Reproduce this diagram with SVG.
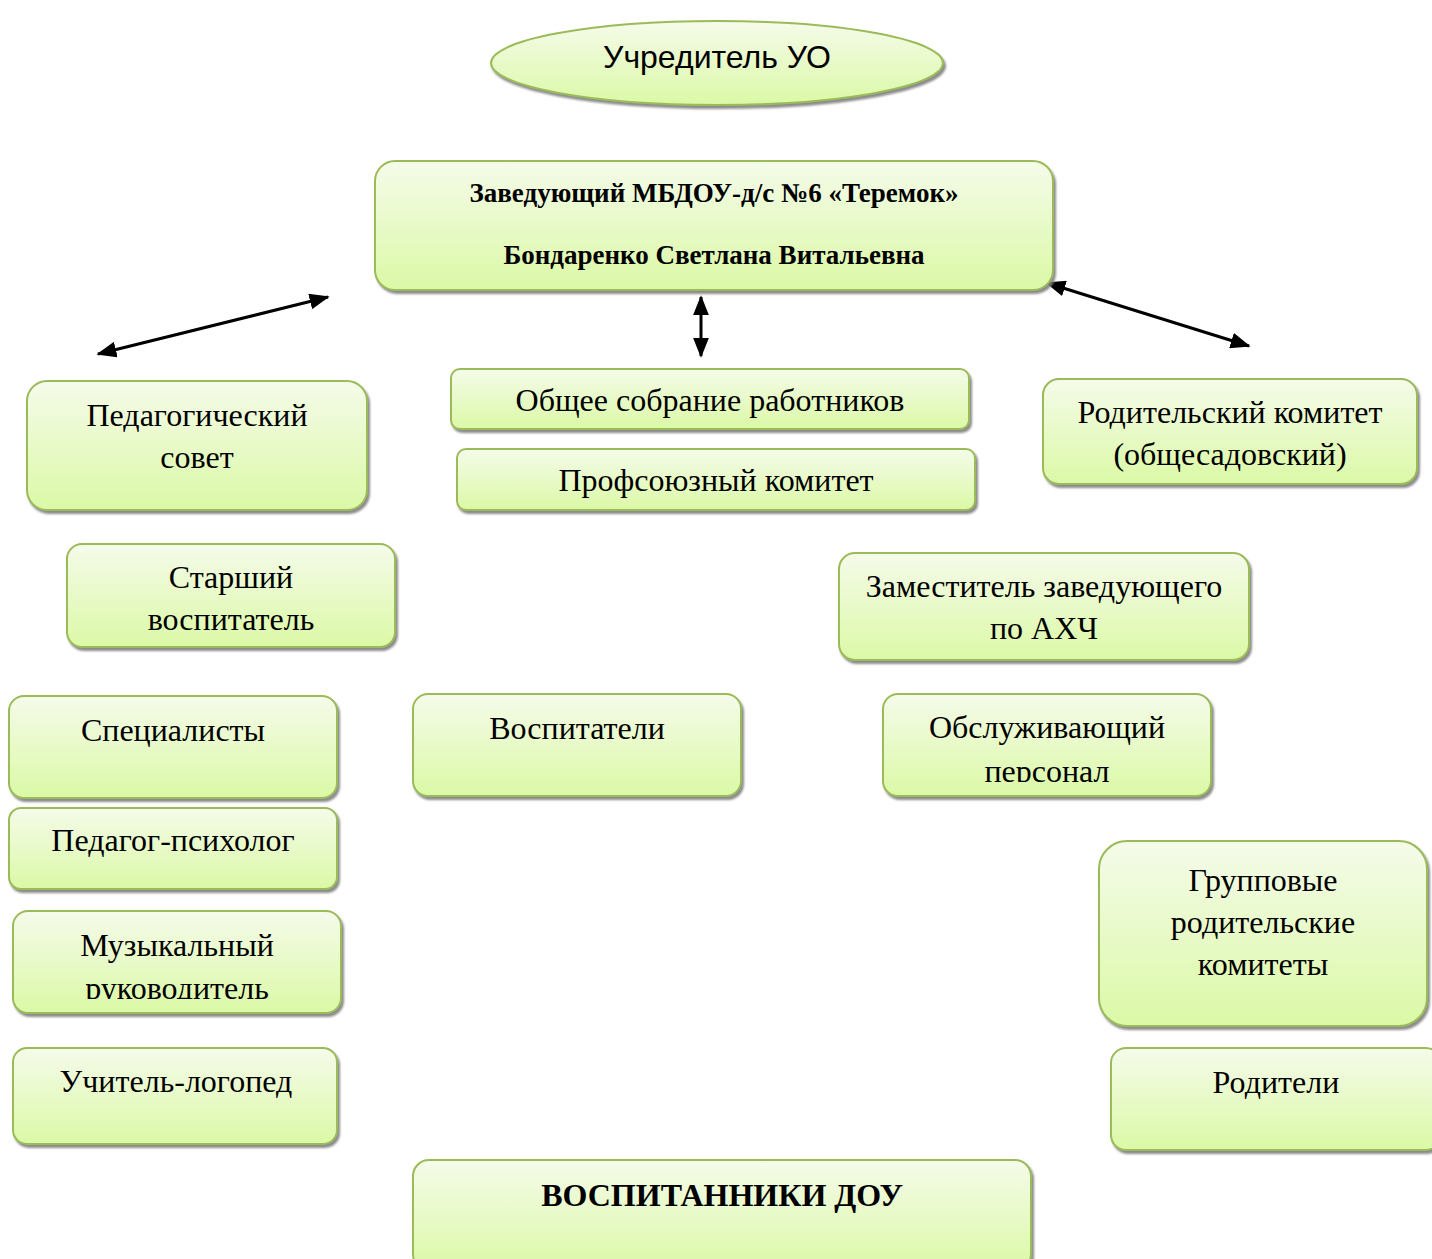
<svg xmlns="http://www.w3.org/2000/svg" width="1432" height="1259" viewBox="0 0 1432 1259">
<defs>
<linearGradient id="g" x1="0" y1="0" x2="0" y2="1">
<stop offset="0" stop-color="#f5fbea"/>
<stop offset="1" stop-color="#dbf9a6"/>
</linearGradient>
<filter id="sh" x="-5%" y="-10%" width="110%" height="130%">
<feDropShadow dx="2" dy="3" stdDeviation="1.2" flood-color="#7f7f7f" flood-opacity="0.9"/>
</filter>
<marker id="ab" viewBox="0 0 12 12" refX="11" refY="6" markerWidth="20" markerHeight="16" markerUnits="userSpaceOnUse" orient="auto-start-reverse" preserveAspectRatio="none">
<path d="M0,0 L12,6 L0,12 z" fill="#000"/>
</marker>
<clipPath id="c1"><rect x="880" y="690" width="340" height="92"/></clipPath>
<clipPath id="c2"><rect x="10" y="905" width="340" height="94"/></clipPath>
</defs>
<style>
.box{fill:url(#g);stroke:#9bbb59;stroke-width:2;filter:url(#sh)}
.t{font-family:"Liberation Serif","Times New Roman",serif;font-size:32px;fill:#000;text-anchor:middle}
.b{font-family:"Liberation Serif","Times New Roman",serif;font-weight:bold;fill:#000;text-anchor:middle}
.s{font-family:"Liberation Sans",Arial,sans-serif;font-size:32px;fill:#000;text-anchor:middle}
.ln{stroke:#000;stroke-width:3;fill:none;marker-start:url(#ab);marker-end:url(#ab)}
</style>
<rect width="1432" height="1259" fill="#fff"/>

<g id="connectors">
<line class="ln" x1="98" y1="354" x2="328" y2="297"/>
<line class="ln" x1="701" y1="297" x2="701" y2="356"/>
<line class="ln" x1="1047" y1="283" x2="1249" y2="346"/>
</g>

<g id="uchreditel">
<ellipse class="box" cx="717" cy="63" rx="226" ry="42"/>
<text class="s" x="717" y="68">Учредитель УО</text>
</g>

<g id="zaveduyushchiy">
<rect class="box" x="375" y="161" width="678" height="129" rx="20"/>
<text class="b" x="714" y="202" font-size="27">Заведующий МБДОУ-д/с №6 «Теремок»</text>
<text class="b" x="714" y="264" font-size="27">Бондаренко Светлана Витальевна</text>
</g>

<g id="pedsovet">
<rect class="box" x="27" y="381" width="340" height="129" rx="20"/>
<text class="t" x="197" y="426">Педагогический</text>
<text class="t" x="197" y="468">совет</text>
</g>

<g id="obshchee">
<rect class="box" x="451" y="369" width="518" height="60" rx="9"/>
<text class="t" x="710" y="411">Общее собрание работников</text>
</g>

<g id="profsoyuz">
<rect class="box" x="457" y="449" width="518" height="61" rx="9"/>
<text class="t" x="716" y="491">Профсоюзный комитет</text>
</g>

<g id="roditelskiy">
<rect class="box" x="1043" y="379" width="374" height="105" rx="16"/>
<text class="t" x="1230" y="423">Родительский комитет</text>
<text class="t" x="1230" y="465">(общесадовский)</text>
</g>

<g id="starshiy">
<rect class="box" x="67" y="544" width="328" height="103" rx="15"/>
<text class="t" x="231" y="588">Старший</text>
<text class="t" x="231" y="630">воспитатель</text>
</g>

<g id="zamestitel">
<rect class="box" x="839" y="553" width="410" height="107" rx="16"/>
<text class="t" x="1044" y="597">Заместитель заведующего</text>
<text class="t" x="1044" y="639">по АХЧ</text>
</g>

<g id="specialisty">
<rect class="box" x="9" y="696" width="328" height="102" rx="15"/>
<text class="t" x="173" y="741">Специалисты</text>
</g>

<g id="vospitateli">
<rect class="box" x="413" y="694" width="328" height="102" rx="15"/>
<text class="t" x="577" y="739">Воспитатели</text>
</g>

<g id="obsluzhivayushchiy">
<rect class="box" x="883" y="694" width="328" height="102" rx="15"/>
<text class="t" x="1047" y="738">Обслуживающий</text>
<text class="t" x="1047" y="782" clip-path="url(#c1)">персонал</text>
</g>

<g id="psiholog">
<rect class="box" x="9" y="808" width="328" height="81" rx="12"/>
<text class="t" x="173" y="851">Педагог-психолог</text>
</g>

<g id="muzykalnyy">
<rect class="box" x="13" y="911" width="328" height="102" rx="15"/>
<text class="t" x="177" y="956">Музыкальный</text>
<text class="t" x="177" y="999" clip-path="url(#c2)">руководитель</text>
</g>

<g id="logoped">
<rect class="box" x="13" y="1048" width="324" height="96" rx="14"/>
<text class="t" x="176" y="1092">Учитель-логопед</text>
</g>

<g id="gruppovye">
<rect class="box" x="1099" y="841" width="328" height="185" rx="28"/>
<text class="t" x="1263" y="891">Групповые</text>
<text class="t" x="1263" y="933">родительские</text>
<text class="t" x="1263" y="975">комитеты</text>
</g>

<g id="roditeli">
<rect class="box" x="1111" y="1048" width="330" height="102" rx="15"/>
<text class="t" x="1276" y="1093">Родители</text>
</g>

<g id="vospitanniki">
<rect class="box" x="413" y="1160" width="618" height="110" rx="16"/>
<text class="b" x="722" y="1206" font-size="32">ВОСПИТАННИКИ ДОУ</text>
</g>
</svg>
